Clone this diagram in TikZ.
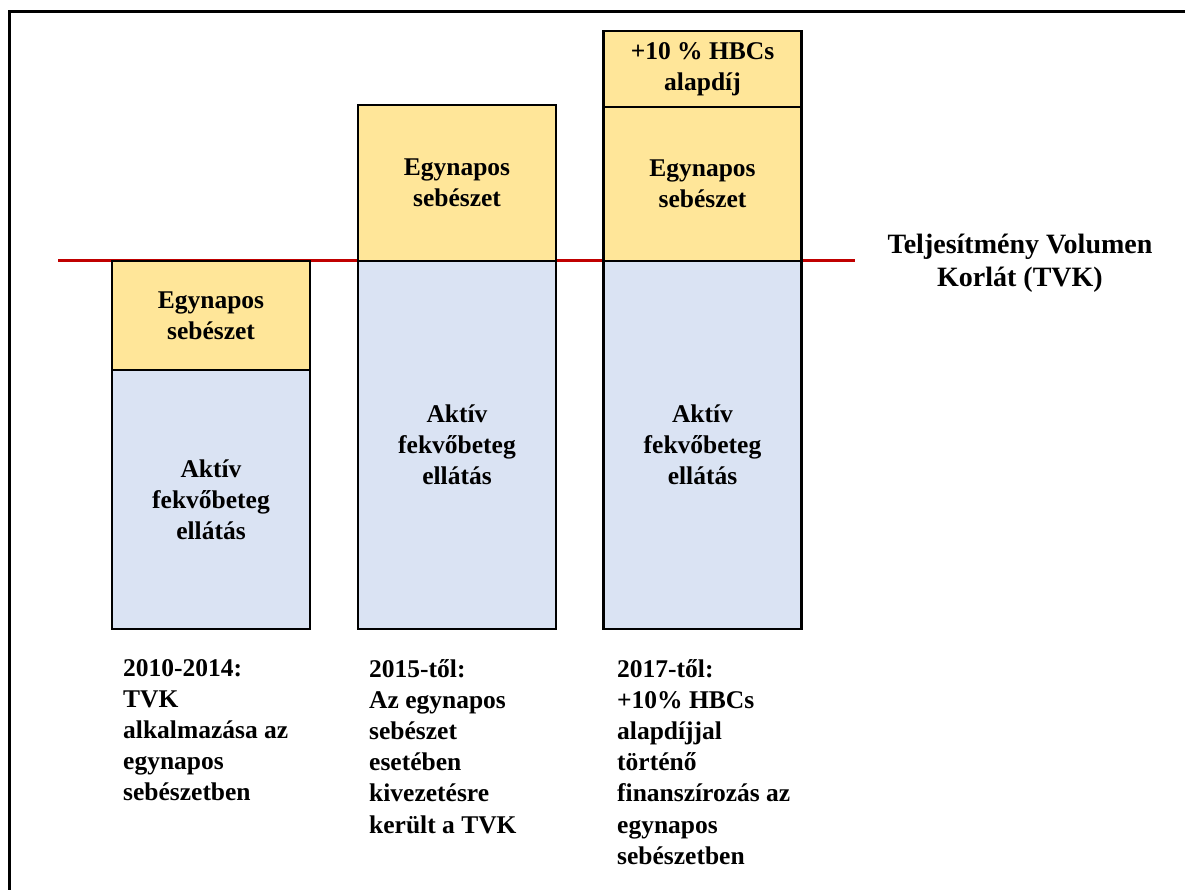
\documentclass[tikz,border=0pt]{standalone}
\usepackage{fontspec}
\setmainfont{Liberation Serif}
\definecolor{barY}{HTML}{FFE699}
\definecolor{barB}{HTML}{DAE3F3}
\definecolor{tvkred}{HTML}{C00000}
\begin{document}
\begin{tikzpicture}[x=1pt,y=-1pt,
  bar/.style={draw=black, line width=2.6pt, inner sep=0pt, minimum width=198pt,
    align=center, font=\fontsize{25.5}{31.2}\selectfont\bfseries},
  ybar/.style={bar, fill=barY},
  bbar/.style={bar, fill=barB},
  note/.style={inner sep=0pt, anchor=north west, align=left,
    font=\fontsize{25.5}{31.2}\selectfont\bfseries},
  tvklabel/.style={inner sep=0pt, anchor=north, align=center,
    font=\fontsize{28}{33}\selectfont\bfseries}]
\useasboundingbox (0,0) rectangle (1185,890);
\fill[white] (0,0) rectangle (1185,890);
% frame
\draw[line width=2.7pt] (9.5,890) -- (9.5,11.5) -- (1185,11.5);
% TVK line
\coordinate (tvkL) at (58,261);
\coordinate (tvkR) at (855,261);
\draw[tvkred, line width=3pt] (tvkL) -- (tvkR);
% bar 1
\node[ybar, minimum height=109pt] (y1) at (211,315.5) {Egynapos\\sebészet};
\node[bbar, minimum height=259pt] (b1) at (211,499.5) {Aktív\\fekvőbeteg\\ellátás};
% bar 2
\node[ybar, minimum height=156pt] (y2) at (457,183) {Egynapos\\sebészet};
\node[bbar, minimum height=368pt] (b2) at (457,445) {Aktív\\fekvőbeteg\\ellátás};
% bar 3
\node[ybar, minimum height=76pt] (t3) at (702.5,69) {+10 \% HBCs\\alapdíj};
\node[ybar, minimum height=154pt] (y3) at (702.5,184) {Egynapos\\sebészet};
\node[bbar, minimum height=368pt] (b3) at (702.5,445) {Aktív\\fekvőbeteg\\ellátás};
% label
\node[tvklabel] (tvk) at (1020,233.5) {Teljesítmény Volumen\\Korlát (TVK)};
% notes
\node[note] (n1) at (123,659) {2010-2014:\\TVK\\alkalmazása az\\egynapos\\sebészetben};
\node[note] (n2) at (369,659) {2015-től:\\Az egynapos\\sebészet\\esetében\\kivezetésre\\került a TVK};
\node[note] (n3) at (617,659) {2017-től:\\+10\% HBCs\\alapdíjjal\\történő\\finanszírozás az\\egynapos\\sebészetben};
\end{tikzpicture}
\end{document}
